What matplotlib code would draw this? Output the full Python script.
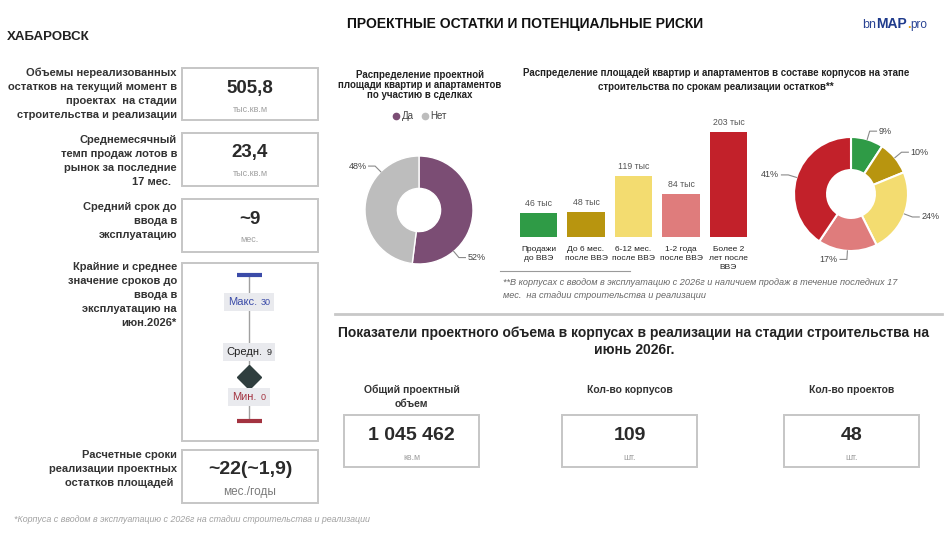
import matplotlib
matplotlib.use("Agg")
import matplotlib.pyplot as plt
from matplotlib.patches import Rectangle
from matplotlib.lines import Line2D
from matplotlib.offsetbox import TextArea, HPacker, AnnotationBbox
import numpy as np

plt.rcParams['font.family'] = ['Liberation Sans', 'DejaVu Sans']

# ---------------- DATA ----------------
city = "ХАБАРОВСК"
main_title = "ПРОЕКТНЫЕ ОСТАТКИ И ПОТЕНЦИАЛЬНЫЕ РИСКИ"

kpi_labels = [
    ["Объемы нереализованных", "остатков на текущий момент в", "проектах  на стадии", "строительства и реализации"],
    ["Среднемесячный", "темп продаж лотов в", "рынок за последние", "17 мес.  "],
    ["Средний срок до", "ввода в", "эксплуатацию"],
    ["Крайние и среднее", "значение сроков до", "ввода в", "эксплуатацию на", "июн.2026*"],
    ["Расчетные сроки", "реализации проектных", "остатков площадей "],
]
kpi_values = ["505,8", "23,4", "~9", None, "~22(~1,9)"]
kpi_units = ["тыс.кв.м", "тыс.кв.м", "мес.", None, "мес./годы"]

range_names = ["Макс.", "Средн.", "Мин."]
range_values = [30, 9, 0]

deal_title = "Распределение проектной\nплощади квартир и апартаментов\nпо участию в сделках"
deal_labels = ["Да", "Нет"]
deal_shares = [52, 48]

stage_title = ("Распределение площадей квартир и апартаментов в составе корпусов на этапе\n"
               "строительства по срокам реализации остатков**")
stage_labels = ["Продажи\nдо ВВЭ", "До 6 мес.\nпосле ВВЭ", "6-12 мес.\nпосле ВВЭ",
                "1-2 года\nпосле ВВЭ", "Более 2\nлет после\nВВЭ"]
stage_values = [46, 48, 119, 84, 203]   # тыс. кв.м

stage_note = ("**В корпусах с вводом в эксплуатацию с 2026г и наличием продаж в течение последних 17\n"
              "мес.  на стадии строительства и реализации")

volume_title = ("Показатели проектного объема в корпусах в реализации на стадии строительства на\n"
                "июнь 2026г.")
volume_labels = ["Общий проектный\nобъем", "Кол-во корпусов", "Кол-во проектов"]
volume_values = ["1 045 462", "109", "48"]
volume_units = ["кв.м", "шт.", "шт."]

footnote = "*Корпуса с вводом в эксплуатацию с 2026г на стадии строительства и реализации"

# ---------------- STYLE ----------------
W, H = 953, 534
deal_colors = ["#7B4D74", "#BDBDBD"]
stage_colors = ["#2F9B46", "#B8950F", "#F3DC70", "#DF7C7C", "#C2212A"]
box_ec = "#C6C6C6"
label_col = "#333333"

fig = plt.figure(figsize=(W / 100, H / 100), dpi=100)
base = fig.add_axes([0, 0, 1, 1])
base.set_xlim(0, W)
base.set_ylim(H, 0)
base.axis('off')


def px_axes(x0, y0, x1, y1):
    return fig.add_axes([x0 / W, 1 - y1 / H, (x1 - x0) / W, (y1 - y0) / H])


def box(x0, y0, x1, y1):
    base.add_patch(Rectangle((x0, y0), x1 - x0, y1 - y0, fill=False, ec=box_ec, lw=1.4))


def lines(x, y0, step, texts, **kw):
    for i, t in enumerate(texts):
        base.text(x, y0 + i * step, t, va='center', **kw)


# titles
base.text(525, 24, main_title, ha='center', va='center', fontsize=10, fontweight='bold', color='#111111')
base.text(7, 37, city, ha='left', va='center', fontsize=9.5, fontweight='bold', color='#222222')

# logo
logo = HPacker(children=[
    TextArea("bn", textprops=dict(fontsize=9, color='#2A4494')),
    TextArea("MAP", textprops=dict(fontsize=10, color='#1F3B8C', fontweight='bold')),
    TextArea(".", textprops=dict(fontsize=9, color='#E8A317', fontweight='bold')),
    TextArea("pro", textprops=dict(fontsize=8.5, color='#2A4494')),
], sep=0, align='baseline', pad=0)
base.add_artist(AnnotationBbox(logo, (895, 24), xycoords='data', frameon=False, pad=0))

# ---------------- LEFT KPI PANEL ----------------
boxes = [(68, 120), (133, 186), (199, 252), (263, 441), (450, 503)]
label_starts = [73, 140, 207, 267, 455]
for i, (y0, y1) in enumerate(boxes):
    box(182, y0, 318, y1)
    lines(177, label_starts[i], 14, kpi_labels[i], ha='right', fontsize=8,
          fontweight='bold', color=label_col)
    if kpi_values[i] is not None:
        big = 14 if i == 4 else 13.5
        base.text(250, y0 + 20, kpi_values[i], ha='center', va='center', fontsize=big,
                  fontweight='bold', color='#2A2A2A')
        ufs = 8.5 if i == 4 else 6.5
        ucol = '#7A7A7A' if i == 4 else '#A0A0A0'
        base.text(250, y0 + (42 if i == 4 else 41), kpi_units[i], ha='center', va='center',
                  fontsize=ufs, color=ucol)

# range chart
ax_r = px_axes(200, 275, 298, 421)
ax_r.set_xlim(-1, 1)
ax_r.set_ylim(min(range_values), max(range_values))
ax_r.axis('off')
rmax, rmean, rmin = range_values
ax_r.plot([0, 0], [rmin, rmax], color='#A0A0A0', lw=1, zorder=1, clip_on=False)
ax_r.plot([0], [rmax], marker='_', ms=18, mew=3, color='#3B4BA8', clip_on=False, zorder=3)
ax_r.plot([0], [rmin], marker='_', ms=18, mew=3, color='#A33340', clip_on=False, zorder=3)
ax_r.plot([0], [rmean], marker='D', ms=12, color='#2F3E3E', clip_on=False, zorder=3)

range_cols = ['#3B4BA8', '#222222', '#A33340']
range_offsets = [-19.5, 18, 17.3]
for name, val, col, off in zip(range_names, range_values, range_cols, range_offsets):
    pk = HPacker(children=[
        TextArea(name, textprops=dict(fontsize=8, color=col)),
        TextArea(str(val), textprops=dict(fontsize=6.5, color=col)),
    ], sep=2.5, align='baseline', pad=0)
    ab = AnnotationBbox(pk, (0, val), xycoords='data', xybox=(0, off), boxcoords='offset points',
                        frameon=True, pad=0.3, annotation_clip=False,
                        bboxprops=dict(fc='#E9EAEE', ec='none'))
    ab.set_zorder(4)
    ax_r.add_artist(ab)

base.text(14, 520, footnote, ha='left', va='center', fontsize=6.4, style='italic', color='#A0A0A0')


# ---------------- DONUT HELPERS ----------------
def donut_labels(ax, angles, texts, r_edge=1.0, r_elbow=1.15, tail=0.12):
    for a, t in zip(angles, texts):
        th = np.deg2rad(a)
        x1, y1 = r_edge * np.cos(th), r_edge * np.sin(th)
        x2, y2 = r_elbow * np.cos(th), r_elbow * np.sin(th)
        s = 1 if np.cos(th) >= 0 else -1
        x3 = x2 + s * tail
        ax.plot([x1, x2, x3], [y1, y2, y2], color='#8A8A8A', lw=0.8, clip_on=False)
        ax.text(x3 + s * 0.04, y2, t, ha='left' if s > 0 else 'right', va='center',
                fontsize=6.5, color='#444444')


# ---------------- DONUT 1 ----------------
base.text(420, 85, deal_title, ha='center', va='center', fontsize=7, fontweight='bold',
          color='#222222', linespacing=1.05)
handles = [Line2D([], [], marker='o', ls='none', ms=4.5, color=c) for c in deal_colors]
fig.legend(handles, deal_labels, loc='center', bbox_to_anchor=(420 / W, 1 - 116 / H), ncol=2,
           frameon=False, fontsize=7, handlelength=0.6, handletextpad=0.3, columnspacing=0.8,
           labelcolor='#444444')

ax_p1 = px_axes(419 - 54, 210 - 54, 419 + 54, 210 + 54)
ax_p1.pie(deal_shares, colors=deal_colors, startangle=90, counterclock=False, radius=1,
          wedgeprops=dict(width=0.6, edgecolor='white', linewidth=1))
ax_p1.set_xlim(-1, 1)
ax_p1.set_ylim(-1, 1)
deal_label_angles = [-50, 135]
donut_labels(ax_p1, deal_label_angles, [f"{v}%" for v in deal_shares])

# ---------------- BAR CHART ----------------
base.text(716, 80, stage_title, ha='center', va='center', fontsize=7, fontweight='bold',
          color='#222222', linespacing=1.55)

ax_b = px_axes(514.75, 113, 752.25, 237)
xs = np.arange(len(stage_values))
ax_b.bar(xs, stage_values, width=0.78, color=stage_colors)
ax_b.set_xlim(-0.5, len(stage_values) - 0.5)
ax_b.set_ylim(0, 240)
for sp in ax_b.spines.values():
    sp.set_visible(False)
ax_b.set_yticks([])
ax_b.set_xticks(xs)
ax_b.set_xticklabels(stage_labels, fontsize=6, linespacing=1.4, color='#222222')
ax_b.tick_params(axis='x', length=0, pad=6.5)
ax_b.patch.set_alpha(0)
for x, v in zip(xs, stage_values):
    ax_b.annotate(f"{v} тыс", (x, v), xytext=(0, 3.5), textcoords='offset points',
                  ha='center', va='bottom', fontsize=6.3, color='#555555')

base.plot([500, 630], [271, 271], color='#9A9A9A', lw=0.8)
base.text(503, 289, stage_note, ha='left', va='center', fontsize=6.6, style='italic',
          color='#666666', linespacing=1.6)

# ---------------- DONUT 2 ----------------
ax_p2 = px_axes(851 - 57, 194 - 57, 851 + 57, 194 + 57)
ax_p2.pie(stage_values, colors=stage_colors, startangle=90, counterclock=False, radius=1,
          wedgeprops=dict(width=0.58, edgecolor='white', linewidth=1.5))
ax_p2.set_xlim(-1, 1)
ax_p2.set_ylim(-1, 1)
tot = sum(stage_values)
cum = np.cumsum([0] + stage_values)
mids = [90 - 360 * (cum[i] + stage_values[i] / 2) / tot for i in range(len(stage_values))]
donut_labels(ax_p2, mids, [f"{round(v / tot * 100)}%" for v in stage_values])

# ---------------- VOLUME PANEL ----------------
base.plot([335, 942], [314, 314], color='#C8C8C8', lw=2)
base.text(634, 341.5, volume_title, ha='center', va='center', fontsize=10, fontweight='bold',
          color='#222222', linespacing=1.25)
vol_x = [(344, 479), (562, 697), (784, 919)]
for (x0, x1), lab, val, unit in zip(vol_x, volume_labels, volume_values, volume_units):
    cx = (x0 + x1) / 2
    for j, ln in enumerate(lab.split('\n')):
        base.text(cx, 390 + 14 * j, ln, ha='center', va='center', fontsize=7.5,
                  fontweight='bold', color=label_col)
    box(x0, 415, x1, 467)
    base.text(cx, 435, val, ha='center', va='center', fontsize=14, fontweight='bold', color='#2A2A2A')
    base.text(cx, 457, unit, ha='center', va='center', fontsize=6.3, color='#A0A0A0')

fig.savefig("out.png", dpi=100)
